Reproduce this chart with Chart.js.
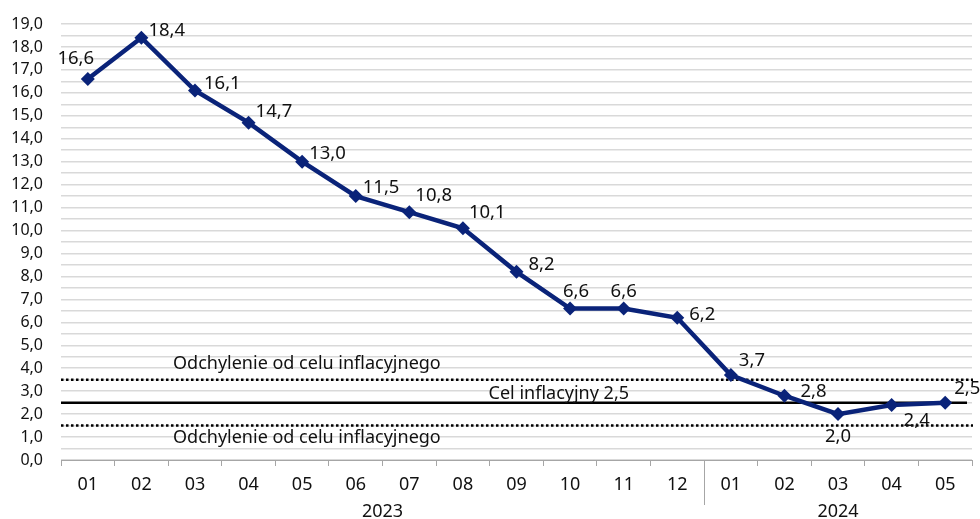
<!DOCTYPE html>
<html>
<head>
<meta charset="utf-8">
<script src="https://cdn.jsdelivr.net/npm/chart.js@4.4.0/dist/chart.umd.min.js"></script>
<style>
  html, body { margin: 0; padding: 0; background: #fff; }
  #wrap { width: 980px; height: 519px; }
</style>
</head>
<body>
<div id="wrap"><canvas id="cpiChart" width="980" height="519"></canvas></div>
<script>
let xMonths = ["01", "02", "03", "04", "05", "06", "07", "08", "09", "10", "11", "12", "01", "02", "03", "04", "05"];
let xYears = ["2023", "2024"];
let yearSpans = [12, 5];
let yInflation = [16.6, 18.4, 16.1, 14.7, 13.0, 11.5, 10.8, 10.1, 8.2, 6.6, 6.6, 6.2, 3.7, 2.8, 2.0, 2.4, 2.5];
let targetValue = 2.5;
let bandUpper = 3.5;
let bandLower = 1.5;
let bandText = "Odchylenie od celu inflacyjnego";
let targetText = "Cel inflacyjny 2,5";

// where each value label sits relative to its point (dx, dy, align)
let labelOffsets = [
  [-12, -20, "center"], [7, -7, "left"], [9, -7, "left"], [7, -11, "left"], [7, -8, "left"],
  [7, -8, "left"], [6, -16, "left"], [6, -15, "left"], [12, -7, "left"], [6, -17, "center"],
  [0, -17, "center"], [12, -3, "left"], [8, -14, "left"], [16, -4, "left"], [0, 23, "center"],
  [12, 16, "left"], [9, -14, "left"]
];

const navy = "#0a2379";
const fontName = "'Noto Sans', sans-serif";

function fmt(v) {
  return v.toFixed(1).replace(".", ",");
}

const refLines = {
  id: "refLines",
  beforeDatasetsDraw(chart) {
    let ctx = chart.ctx;
    let area = chart.chartArea;
    let y = chart.scales.y;
    ctx.save();
    ctx.strokeStyle = "#000";
    ctx.lineWidth = 2.5;
    // dotted band
    ctx.setLineDash([2.5, 2.5]);
    [bandUpper, bandLower].forEach(function (v) {
      let py = y.getPixelForValue(v);
      ctx.beginPath();
      ctx.moveTo(area.left, py);
      ctx.lineTo(area.right + 1, py);
      ctx.stroke();
    });
    ctx.setLineDash([]);
    let ty = y.getPixelForValue(targetValue);
    ctx.beginPath();
    ctx.moveTo(area.left, ty);
    ctx.lineTo(area.right - 5, ty);
    ctx.stroke();

    ctx.fillStyle = "#111";
    ctx.font = "18px " + fontName;
    ctx.textAlign = "left";
    ctx.textBaseline = "middle";
    ctx.fillText(bandText, area.left + 112, y.getPixelForValue(bandUpper) - 16);
    ctx.fillText(bandText, area.left + 112, y.getPixelForValue(bandLower) + 12);
    ctx.textAlign = "right";
    ctx.fillText(targetText, area.left + 568, ty - 9);
    ctx.restore();
  }
};

const valueLabels = {
  id: "valueLabels",
  afterDatasetsDraw(chart) {
    let ctx = chart.ctx;
    let meta = chart.getDatasetMeta(0);
    ctx.save();
    ctx.fillStyle = "#111";
    ctx.font = "18.5px " + fontName;
    ctx.textBaseline = "middle";
    meta.data.forEach(function (pt, i) {
      let off = labelOffsets[i];
      ctx.textAlign = off[2];
      ctx.fillText(fmt(yInflation[i]), pt.x + off[0], pt.y + off[1]);
    });
    ctx.restore();
  }
};

const yearAxis = {
  id: "yearAxis",
  afterDraw(chart) {
    let ctx = chart.ctx;
    let area = chart.chartArea;
    let step = (area.right - area.left) / xMonths.length;
    ctx.save();
    ctx.fillStyle = "#111";
    ctx.font = "18px " + fontName;
    ctx.textAlign = "center";
    ctx.textBaseline = "middle";
    let start = 0;
    for (let i = 0; i < xYears.length; i++) {
      let x0 = area.left + start * step;
      let x1 = area.left + (start + yearSpans[i]) * step;
      ctx.fillText(xYears[i], (x0 + x1) / 2, 512);
      if (i > 0) {
        ctx.strokeStyle = "#a6a6a6";
        ctx.lineWidth = 1;
        ctx.beginPath();
        ctx.moveTo(Math.round(x0) + 0.5, area.bottom);
        ctx.lineTo(Math.round(x0) + 0.5, 505);
        ctx.stroke();
      }
      start += yearSpans[i];
    }
    ctx.restore();
  }
};

let cpiChart = new Chart("cpiChart", {
  type: "line",
  data: {
    labels: xMonths,
    datasets: [{
      data: yInflation,
      borderColor: navy,
      backgroundColor: navy,
      borderWidth: 4.5,
      tension: 0,
      pointStyle: "rectRot",
      pointRadius: 7,
      pointHoverRadius: 7,
      pointBackgroundColor: navy,
      pointBorderColor: navy,
      pointBorderWidth: 0
    }]
  },
  options: {
    responsive: false,
    animation: false,
    events: [],
    layout: { padding: { top: 24, right: 8, left: 0, bottom: 0 } },
    plugins: {
      legend: { display: false },
      tooltip: { enabled: false }
    },
    scales: {
      x: {
        offset: true,
        grid: {
          offset: true,
          drawOnChartArea: false,
          drawTicks: true,
          tickLength: 6,
          color: "#a6a6a6"
        },
        border: { display: true, color: "#a6a6a6", width: 1 },
        ticks: {
          color: "#111",
          font: { family: fontName, size: 18 },
          padding: 8,
          maxRotation: 0,
          autoSkip: false
        },
        afterFit: function (scale) {
          scale.height = 59;
          scale.paddingLeft = 0;
          scale.paddingRight = 0;
        }
      },
      y: {
        min: 0,
        max: 19,
        grid: {
          color: "#d9d9d9",
          lineWidth: 1.5,
          drawTicks: false
        },
        border: { display: false },
        ticks: {
          stepSize: 0.5,
          autoSkip: false,
          color: "#111",
          font: { family: fontName, size: 16 },
          padding: 18,
          callback: function (v) { return Math.abs(v % 1) < 1e-6 ? fmt(v) : ""; }
        },
        afterFit: function (scale) {
          scale.width = 61;
          scale.paddingTop = 0;
          scale.paddingBottom = 0;
        }
      }
    }
  },
  plugins: [refLines, valueLabels, yearAxis]
});
</script>
</body>
</html>
